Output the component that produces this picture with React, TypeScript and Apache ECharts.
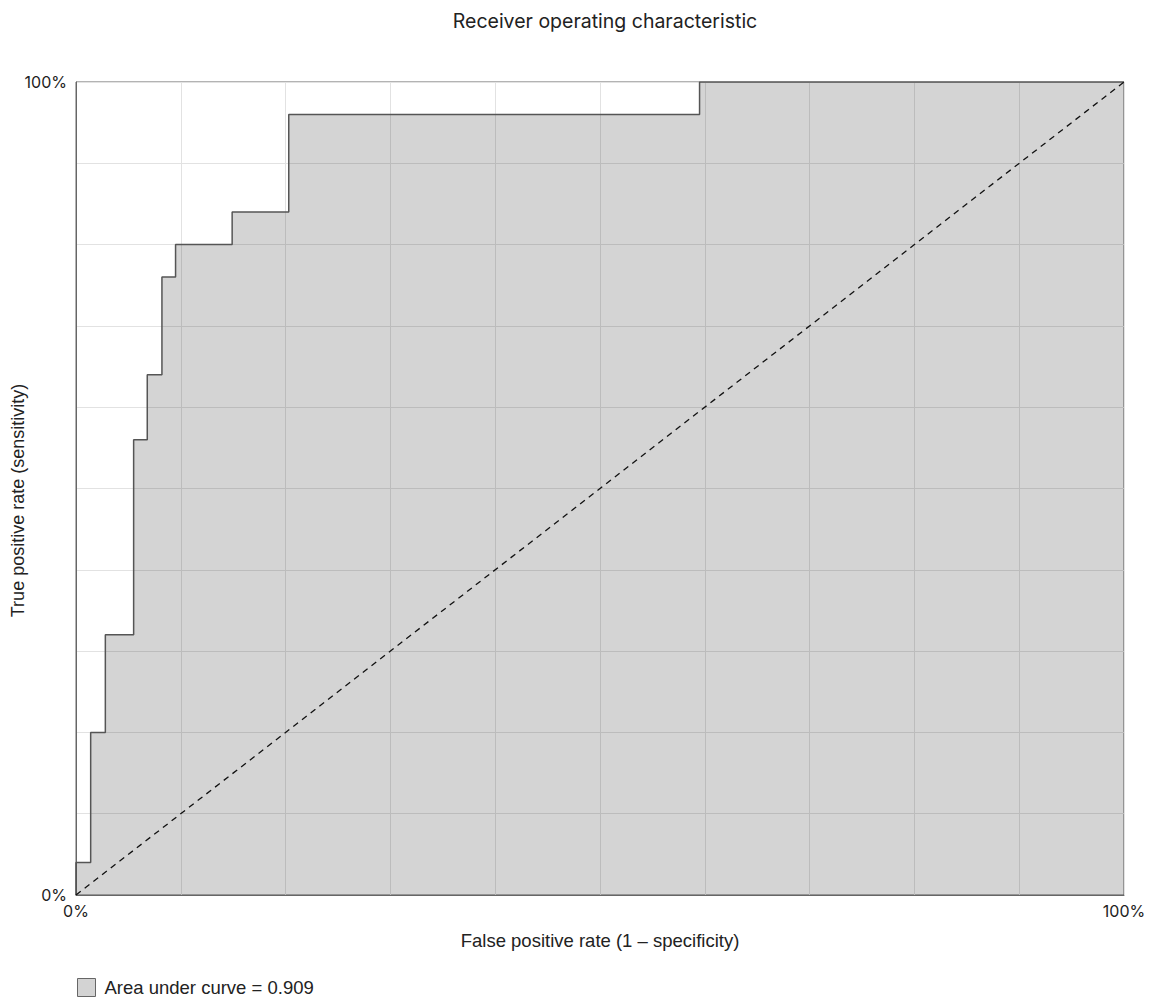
import React, { useEffect, useRef } from "react";
import * as echarts from "echarts";

// ROC vertices (false positive rate, true positive rate)
const fprPoints = [0, 0, 0.014, 0.028, 0.055, 0.068, 0.082, 0.095, 0.149, 0.203, 0.595, 1];
const tprPoints = [0, 0.04, 0.2, 0.32, 0.56, 0.64, 0.76, 0.8, 0.84, 0.96, 1, 1];
const diagonalX = [0, 1];
const diagonalY = [0, 1];
const axisTickLabels: Record<string, string> = { "0": "0%", "1": "100%" };
const aucLabel = "Area under curve = 0.909";
const titleText = "Receiver operating characteristic";
const xName = "False positive rate (1 – specificity)";
const yName = "True positive rate (sensitivity)";

const FONT = "'Liberation Sans', Arial, Helvetica, sans-serif";
const UIFONT = "Inter, 'Liberation Sans', sans-serif";

function buildStairs(xs: number[], ys: number[]) {
  const out: [number, number][] = [];
  for (let i = 0; i < xs.length; i++) {
    if (i > 0) out.push([xs[i], ys[i - 1]]);
    out.push([xs[i], ys[i]]);
  }
  return out;
}

export default function App() {
  const ref = useRef<HTMLDivElement>(null);
  useEffect(() => {
    document.body.style.margin = "0";
    if (!ref.current) return;
    const chart = echarts.init(ref.current, undefined, { renderer: "svg" });
    const fmt = (v: number) => {
      const k = String(Math.round(v * 100) / 100);
      return axisTickLabels[k] ?? "";
    };
    chart.setOption({
      animation: false,
      backgroundColor: "#ffffff",
      title: {
        text: titleText,
        left: 600,
        textAlign: "center",
        top: 6,
        textStyle: { fontFamily: UIFONT, fontSize: 19.5, fontWeight: "normal", color: "#222" },
      },
      grid: {
        left: 76,
        top: 82,
        width: 1048,
        height: 813,
        containLabel: false,
        outerBoundsMode: "none",
        show: true,
        borderColor: "#666",
        borderWidth: 1,
        backgroundColor: "transparent",
      },
      legend: {
        left: 77,
        top: 978,
        data: [{ name: aucLabel, icon: "rect" }],
        itemWidth: 18,
        itemHeight: 18,
        itemGap: 10,
        itemStyle: { color: "#d3d3d3", borderColor: "#666", borderWidth: 1 },
        lineStyle: { width: 0 },
        textStyle: { fontFamily: FONT, fontSize: 18.5, color: "#222", padding: [0, 0, 0, 4] },
        padding: 0,
      },
      xAxis: {
        type: "value",
        min: 0,
        max: 1,
        interval: 0.1,
        name: xName,
        nameLocation: "middle",
        nameGap: 36,
        nameMoveOverlap: false,
        nameTextStyle: { fontFamily: FONT, fontSize: 18.5, color: "#222" },
        axisLine: { show: true, lineStyle: { color: "#666" } },
        axisTick: { show: false },
        axisLabel: { formatter: fmt, fontFamily: UIFONT, fontSize: 16, color: "#222", margin: 8 },
        splitLine: { show: true, lineStyle: { color: "#e2e2e2", width: 1 } },
      },
      yAxis: {
        type: "value",
        min: 0,
        max: 1,
        interval: 0.1,
        name: yName,
        nameLocation: "middle",
        nameGap: 49,
        nameMoveOverlap: false,
        nameTextStyle: { fontFamily: FONT, fontSize: 18, color: "#222", padding: [0, 24, 0, 0] },
        axisLine: { show: true, lineStyle: { color: "#666" } },
        axisTick: { show: false },
        axisLabel: { formatter: fmt, fontFamily: UIFONT, fontSize: 16, color: "#222", margin: 9 },
        splitLine: { show: true, lineStyle: { color: "#e2e2e2", width: 1 } },
      },
      series: [
        {
          name: aucLabel,
          type: "line",
          data: buildStairs(fprPoints, tprPoints),
          showSymbol: false,
          symbol: "none",
          itemStyle: { color: "#d3d3d3", borderColor: "#666" },
          lineStyle: { color: "#555", width: 1.5 },
          areaStyle: { color: "rgba(0,0,0,0.17)", opacity: 1, origin: "start" },
          z: 2,
        },
        {
          name: "diagonal",
          type: "line",
          data: diagonalX.map((x, i) => [x, diagonalY[i]]),
          showSymbol: false,
          symbol: "none",
          lineStyle: { color: "#111", width: 1.3, type: [6, 5] },
          z: 3,
        },
      ],
    });
    return () => chart.dispose();
  }, []);
  return <div ref={ref} style={{ width: 1154, height: 999 }} />;
}
